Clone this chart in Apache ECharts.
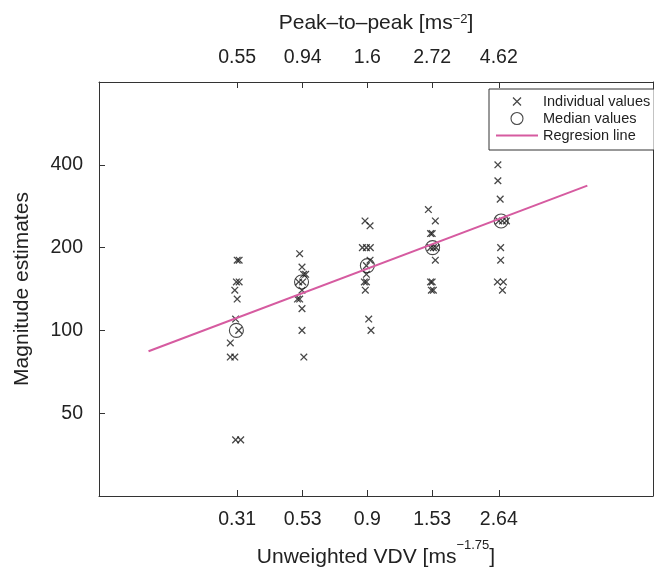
<!DOCTYPE html>
<html>
<head>
<meta charset="utf-8">
<script src="https://cdn.jsdelivr.net/npm/echarts@6/dist/echarts.min.js"></script>
<style>
html,body{margin:0;padding:0;background:#fff;}
#chart{width:654px;height:573px;}
</style>
</head>
<body>
<div id="chart"></div>
<script>
// ---- data ----
const vdvTicks = [0.31, 0.53, 0.9, 1.53, 2.64];
const ptpTicks = [0.55, 0.94, 1.6, 2.72, 4.62];
const yTicks = [50, 100, 200, 400];
const xRange = [0.1, 9.33];
const yRange = [25, 800];

const indivX = [
  0.310, 0.315, 0.308, 0.315, 0.304, 0.310, 0.306, 0.314, 0.293, 0.293, 0.304, 0.306, 0.319,
  0.517, 0.527, 0.534, 0.543, 0.513, 0.530, 0.527, 0.508, 0.517, 0.527, 0.527, 0.535,
  0.883, 0.920, 0.864, 0.893, 0.922, 0.920, 0.893, 0.893, 0.878, 0.893, 0.885, 0.910, 0.927,
  1.483, 1.570, 1.510, 1.530, 1.510, 1.545, 1.580, 1.570, 1.510, 1.530, 1.520, 1.545,
  2.62, 2.62, 2.67, 2.64, 2.72, 2.81, 2.68, 2.68, 2.61, 2.74, 2.72
];
const indivY = [
  180, 180, 150, 150, 140, 130, 110, 100, 90, 80, 80, 40, 40,
  190, 170, 160, 160, 150, 150, 140, 130, 130, 120, 100, 80,
  250, 240, 200, 200, 200, 180, 172, 160, 150, 150, 140, 110, 100,
  275, 250, 225, 225, 200, 200, 200, 180, 150, 150, 140, 140,
  400, 350, 300, 250, 250, 250, 200, 180, 150, 150, 140
];
const medianX = [0.308, 0.525, 0.9, 1.535, 2.69];
const medianY = [100, 150, 172, 200, 250];
const regX = [0.15, 5.45];
const regY = [84, 336];

// ---- chart ----
const L = Math.log10;
const FONT = "'Liberation Sans', Arial, Helvetica, sans-serif";
const TXT = '#222';
const AX = '#333';
const PINK = '#d65ba0';
const crossPath = 'path://M0,0M2,2L10,10M10,2L2,10M12,12';
const linePath = 'path://M0,0M0,5L42,5L42,7L0,7ZM42,12';

function pick(ticksLog, labels, v) {
  for (let i = 0; i < ticksLog.length; i++) {
    if (Math.abs(ticksLog[i] - v) < 1e-6) return String(labels[i]);
  }
  return '';
}
const vdvLog = vdvTicks.map(L);
const yLog = yTicks.map(L);

const richTitle = (supPad) => ({
  a: {fontSize: 21, color: TXT, fontFamily: FONT, lineHeight: 24},
  b: {fontSize: 13, color: TXT, fontFamily: FONT, padding: [0, 0, supPad, 0]}
});

const chart = echarts.init(document.getElementById('chart'), null, {renderer: 'canvas'});
chart.setOption({
  animation: false,
  backgroundColor: '#fff',
  grid: {left: 99, right: 1, top: 82, bottom: 75, containLabel: false},
  legend: {
    left: 489, top: 89, orient: 'vertical',
    padding: [5, 4, 7, 7],
    itemWidth: 42, itemHeight: 12, itemGap: 2,
    borderColor: AX, borderWidth: 1, borderRadius: 0,
    backgroundColor: '#fff',
    selectedMode: false,
    textStyle: {fontSize: 14.5, color: TXT, fontFamily: FONT},
    data: [
      {name: 'Individual values', icon: crossPath,
       itemStyle: {color: 'rgba(0,0,0,0)', borderColor: '#1a1a1a', borderWidth: 1.3}},
      {name: 'Median values', icon: 'circle',
       itemStyle: {color: 'rgba(0,0,0,0)', borderColor: '#1a1a1a', borderWidth: 1.1}},
      {name: 'Regresion line', icon: linePath,
       itemStyle: {color: PINK, borderWidth: 0}}
    ]
  },
  xAxis: [
    {
      type: 'value', position: 'bottom',
      min: L(xRange[0]), max: L(xRange[1]),
      axisLine: {show: true, onZero: false, lineStyle: {color: AX, width: 1}},
      axisTick: {show: true, inside: true, length: 6, customValues: vdvLog, lineStyle: {color: AX}},
      axisLabel: {customValues: vdvLog, formatter: v => pick(vdvLog, vdvTicks, v),
                  fontSize: 19.5, color: TXT, fontFamily: FONT, margin: 14},
      splitLine: {show: false},
      name: '{a|Unweighted VDV [ms}{b|\u22121.75}{a|]}',
      nameLocation: 'middle', nameGap: 43,
      nameTextStyle: {rich: richTitle(24)}
    },
    {
      type: 'value', position: 'top',
      min: L(xRange[0]), max: L(xRange[1]),
      axisLine: {show: true, onZero: false, lineStyle: {color: AX, width: 1}},
      axisTick: {show: true, inside: true, length: 6, customValues: vdvLog, lineStyle: {color: AX}},
      axisLabel: {customValues: vdvLog, formatter: v => pick(vdvLog, ptpTicks, v),
                  fontSize: 19.5, color: TXT, fontFamily: FONT, margin: 14},
      splitLine: {show: false},
      name: '{a|Peak\u2013to\u2013peak [ms}{b|\u22122}{a|]}',
      nameLocation: 'middle', nameGap: 47,
      nameTextStyle: {rich: richTitle(8)}
    }
  ],
  yAxis: [
    {
      type: 'value', position: 'left',
      min: L(yRange[0]), max: L(yRange[1]),
      axisLine: {show: true, onZero: false, lineStyle: {color: AX, width: 1}},
      axisTick: {show: true, inside: true, length: 6, customValues: yLog, lineStyle: {color: AX}},
      axisLabel: {customValues: yLog, formatter: v => pick(yLog, yTicks, v),
                  fontSize: 19.5, color: TXT, fontFamily: FONT, margin: 16},
      splitLine: {show: false},
      name: 'Magnitude estimates',
      nameLocation: 'middle', nameGap: 66,
      nameTextStyle: {fontSize: 21, color: TXT, fontFamily: FONT}
    },
    {
      type: 'value', position: 'right',
      min: L(yRange[0]), max: L(yRange[1]),
      axisLine: {show: true, onZero: false, lineStyle: {color: AX, width: 1}},
      axisTick: {show: false}, axisLabel: {show: false}, splitLine: {show: false}
    }
  ],
  series: [
    {
      name: 'Individual values', type: 'scatter',
      xAxisIndex: 0, yAxisIndex: 0,
      symbol: crossPath, symbolSize: 10,
      itemStyle: {color: 'rgba(0,0,0,0)', borderColor: '#1a1a1a', borderWidth: 1.3},
      emphasis: {disabled: true},
      data: indivX.map((x, i) => [L(x), L(indivY[i])])
    },
    {
      name: 'Median values', type: 'scatter',
      xAxisIndex: 0, yAxisIndex: 0,
      symbol: 'circle', symbolSize: 14,
      itemStyle: {color: 'rgba(0,0,0,0)', borderColor: '#1a1a1a', borderWidth: 1.1},
      emphasis: {disabled: true},
      data: medianX.map((x, i) => [L(x), L(medianY[i])])
    },
    {
      name: 'Regresion line', type: 'line',
      xAxisIndex: 0, yAxisIndex: 0,
      symbol: 'none', showSymbol: false,
      lineStyle: {color: PINK, width: 2},
      itemStyle: {color: PINK},
      emphasis: {disabled: true},
      data: regX.map((x, i) => [L(x), L(regY[i])])
    }
  ]
});
</script>
</body>
</html>
